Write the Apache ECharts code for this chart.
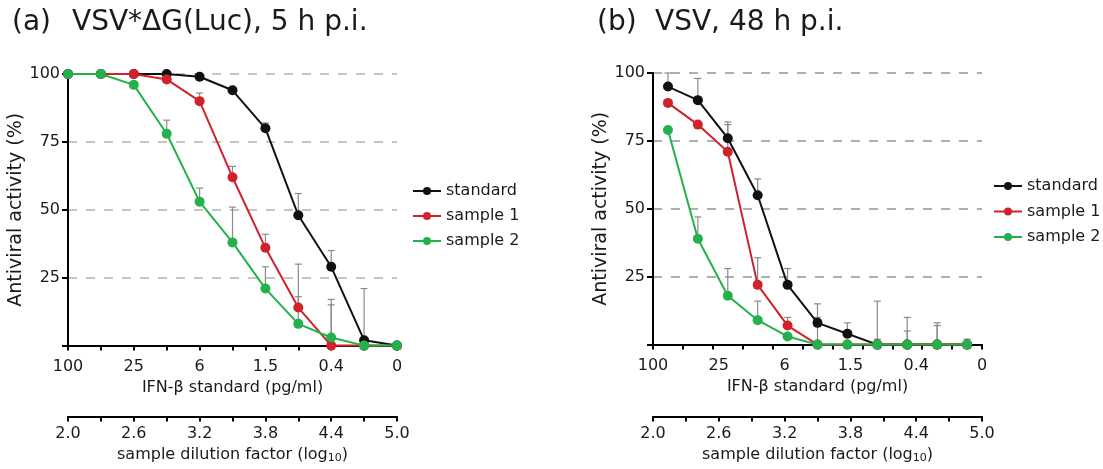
<!DOCTYPE html>
<html><head><meta charset="utf-8">
<script src="https://cdn.jsdelivr.net/npm/echarts@6/dist/echarts.min.js"></script>
<style>html,body{margin:0;padding:0;background:#fff}#c{width:1103px;height:469px}</style>
</head><body><div id="c"></div>
<script>
// ---- data ----
const dilutionSteps = ['2.0','2.3','2.6','2.9','3.2','3.5','3.8','4.1','4.4','4.7','5.0'];
const standardLabels = ['100','25','6','1.5','0.4','0'];
const seriesNames = ['standard','sample 1','sample 2'];

// panel (a): VSV*ΔG(Luc), 5 h p.i.
const standardA = [100,100,100,100,99,94,80,48,29,2,0];
const sample1A  = [100,100,100,98,90,62,36,14,0,0,0];
const sample2A  = [100,100,96,78,53,38,21,8,3,0,0];
const capStandardA = [null,null,null,null,null,null,82,56,35,21,null];
const capSample1A  = [null,null,null,null,93,66,41,30,17,null,null];
const capSample2A  = [null,null,null,83,58,51,29,18,15,null,null];

// panel (b): VSV, 48 h p.i.
const standardB = [95,90,76,55,22,8,4,0,0,0,0];
const sample1B  = [89,81,71,22,7,0,0,0,0,0,0];
const sample2B  = [79,39,18,9,3,0,0,0,0,0,0];
const capStandardB = [100,98,82,61,28,15,8,16,10,8,2];
const capSample1B  = [null,null,81,32,10,10,null,2,5,7,null];
const capSample2B  = [null,47,28,16,null,null,null,null,null,null,null];

const colors = ['#111111','#d0222b','#22b14c'];
const FONT = "'DejaVu Sans', 'Liberation Sans', Arial, sans-serif";
const TXT = '#1a1a1a';
const FS = 16;

function lineSeries(name, data, color, idx){
  return {type:'line', name, data, xAxisIndex: idx===0?0:2, yAxisIndex: idx,
    symbol:'circle', symbolSize:10, clip:false, z:3,
    lineStyle:{color, width:2}, itemStyle:{color}, emphasis:{disabled:true}};
}
function errSeries(vals, caps, idx){
  const d = [];
  caps.forEach((c,i)=>{ if(c!=null) d.push([i, vals[i], c]); });
  return {type:'custom', xAxisIndex: idx===0?0:2, yAxisIndex: idx, data:d, clip:false, z:1, silent:true,
    encode:{x:0, y:[1,2]},
    renderItem(params, api){
      const x = api.value(0);
      const p0 = api.coord([x, api.value(1)]);
      const p1 = api.coord([x, api.value(2)]);
      const st = {stroke:'#8a8a8a', lineWidth:1.2};
      return {type:'group', children:[
        {type:'line', shape:{x1:p0[0],y1:p0[1],x2:p1[0],y2:p1[1]}, style:st},
        {type:'line', shape:{x1:p1[0]-3.5,y1:p1[1],x2:p1[0]+3.5,y2:p1[1]}, style:st}
      ]};
    }};
}

const axisLine = {show:true, lineStyle:{color:'#000', width:2}};
const axisTick = {show:true, length:5, lineStyle:{color:'#000', width:2}};
const labelStyle = {fontSize:FS, color:TXT, fontFamily:FONT};
const subName = {
  name:'sample dilution factor (log{sub|10})', nameLocation:'middle', nameGap:27,
  nameTextStyle:{fontSize:FS, color:TXT, fontFamily:FONT,
    rich:{sub:{fontSize:11, color:TXT, fontFamily:FONT, padding:[8,0,0,0]}}}
};
const topName = {name:'IFN-β standard (pg/ml)', nameLocation:'middle', nameGap:34,
  nameTextStyle:{fontSize:FS, color:TXT, fontFamily:FONT}};

function yAxis(g, gridColor){
  return {type:'value', gridIndex:g, min:0, max:100, interval:25,
    axisLine, axisTick:{show:true, length:6, lineStyle:{color:'#000', width:2}},
    axisLabel:Object.assign({margin:8, formatter:v=> v===0?'':String(v)}, labelStyle),
    splitLine:{show:true, lineStyle:{type:[9,9], color:gridColor, width:1.5}},
    name:'Antiviral activity (%)', nameLocation:'middle', nameGap:32, nameRotate:90,
    nameTextStyle:{fontSize:19, color:TXT, fontFamily:FONT}};
}

const option = {
  animation:false,
  textStyle:{fontFamily:FONT},
  grid:[
    {left:68, top:74, width:329, height:276},
    {left:653, top:73, width:329, height:276}
  ],
  xAxis:[
    Object.assign({type:'category', gridIndex:0, data:dilutionSteps, boundaryGap:false, position:'bottom',
      axisLine, axisTick:Object.assign({interval:0}, axisTick),
      axisLabel:Object.assign({interval:1, margin:13, formatter:(v,i)=>standardLabels[i/2]}, labelStyle)}, topName),
    Object.assign({type:'category', gridIndex:0, data:dilutionSteps, boundaryGap:false, position:'bottom', offset:71,
      axisLine, axisTick:Object.assign({interval:0}, axisTick),
      axisLabel:Object.assign({interval:1, margin:9}, labelStyle)}, subName),
    Object.assign({type:'category', gridIndex:1, data:dilutionSteps, boundaryGap:true, position:'bottom',
      axisLine, axisTick:Object.assign({interval:0, alignWithLabel:false}, axisTick),
      axisLabel:{show:false}}, topName),
    {type:'category', gridIndex:1, data:standardLabels, boundaryGap:false, position:'bottom',
      axisLine:{show:false}, axisTick:{show:false},
      axisLabel:Object.assign({interval:0, margin:13}, labelStyle)},
    Object.assign({type:'category', gridIndex:1, data:dilutionSteps, boundaryGap:false, position:'bottom', offset:72,
      axisLine, axisTick:Object.assign({interval:0}, axisTick),
      axisLabel:Object.assign({interval:1, margin:9}, labelStyle)}, subName)
  ],
  yAxis:[yAxis(0, '#b4b4b4'), yAxis(1, '#959595')],
  legend:[
    {left:407, top:178, orient:'vertical', itemWidth:28, itemHeight:10, itemGap:9,
      textStyle:{fontSize:FS, color:TXT, fontFamily:FONT}, data:seriesNames, selectedMode:false},
    {left:988, top:173, orient:'vertical', itemWidth:28, itemHeight:10, itemGap:9.5,
      textStyle:{fontSize:FS, color:TXT, fontFamily:FONT}, data:seriesNames, selectedMode:false}
  ],
  graphic:[
    {type:'text', left:12, top:9, style:{text:'(a)', fontSize:28, fill:TXT, fontFamily:FONT}},
    {type:'text', left:72, top:9, style:{text:'VSV*ΔG(Luc), 5 h p.i.', fontSize:28, fill:TXT, fontFamily:FONT}},
    {type:'text', left:597, top:9, style:{text:'(b)', fontSize:28, fill:TXT, fontFamily:FONT}},
    {type:'text', left:655, top:9, style:{text:'VSV, 48 h p.i.', fontSize:28, fill:TXT, fontFamily:FONT}}
  ],
  series:[
    errSeries(standardA, capStandardA, 0),
    errSeries(sample1A, capSample1A, 0),
    errSeries(sample2A, capSample2A, 0),
    errSeries(standardB, capStandardB, 1),
    errSeries(sample1B, capSample1B, 1),
    errSeries(sample2B, capSample2B, 1),
    lineSeries(seriesNames[0], standardA, colors[0], 0),
    lineSeries(seriesNames[1], sample1A, colors[1], 0),
    lineSeries(seriesNames[2], sample2A, colors[2], 0),
    lineSeries(seriesNames[0], standardB, colors[0], 1),
    lineSeries(seriesNames[1], sample1B, colors[1], 1),
    lineSeries(seriesNames[2], sample2B, colors[2], 1)
  ]
};
const chart = echarts.init(document.getElementById('c'), null, {renderer:'canvas'});
chart.setOption(option);
</script>
</body></html>
